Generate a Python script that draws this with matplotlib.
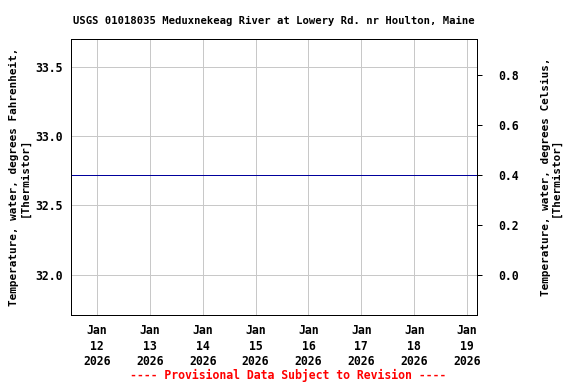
import matplotlib
matplotlib.use("Agg")
import matplotlib.pyplot as plt
import datetime as dt

# Data
times = ["2026-01-11 12:15", "2026-01-13 00:00", "2026-01-15 00:00",
         "2026-01-17 00:00", "2026-01-19 04:30"]
temps_f = [32.72, 32.72, 32.72, 32.72, 32.72]
tick_dates = ["2026-01-12", "2026-01-13", "2026-01-14", "2026-01-15",
              "2026-01-16", "2026-01-17", "2026-01-18", "2026-01-19"]
tick_labels = ["Jan\n12\n2026", "Jan\n13\n2026", "Jan\n14\n2026", "Jan\n15\n2026",
               "Jan\n16\n2026", "Jan\n17\n2026", "Jan\n18\n2026", "Jan\n19\n2026"]
yticks_f = [32.0, 32.5, 33.0, 33.5]
yticks_c = [0.0, 0.2, 0.4, 0.6, 0.8]

title = "USGS 01018035 Meduxnekeag River at Lowery Rd. nr Houlton, Maine"
ylabel_l = "Temperature, water, degrees Fahrenheit,\n[Thermistor]"
ylabel_r = "Temperature, water, degrees Celsius,\n[Thermistor]"
footer = "---- Provisional Data Subject to Revision ----"

plt.rcParams['font.family'] = ['DejaVu Sans Mono']
plt.rcParams['font.weight'] = 'bold'

fig = plt.figure(figsize=(8, 384/72), dpi=72)
ax = fig.add_axes([71/576, 69/384, 406/576, 276/384])

t = [dt.datetime.strptime(s, "%Y-%m-%d %H:%M") for s in times]
ax.plot(t, temps_f, color="#00009c", lw=1.0, zorder=3)

ax.set_xlim(t[0], t[-1])
ax.set_ylim(31.71, 33.70)

td = [dt.datetime.strptime(s, "%Y-%m-%d") for s in tick_dates]
ax.set_xticks(td)
ax.set_xticklabels(tick_labels, fontsize=11.5, fontweight='bold', linespacing=1.25)
ax.set_yticks(yticks_f)
ax.set_yticklabels([f"{v:.1f}" for v in yticks_f], fontsize=11.5, fontweight='bold')
ax.tick_params(axis='y', length=0, pad=8)
ax.tick_params(axis='x', length=0, pad=9)
ax.grid(True, color="#c8c8c8", lw=1.0)
ax.set_axisbelow(True)
for s in ax.spines.values():
    s.set_linewidth(1.0)
    s.set_color('black')

ax.set_ylabel(ylabel_l, fontsize=11, fontweight='bold', labelpad=6, linespacing=1.0)
ax.set_title(title, fontsize=10.5, fontweight='bold', pad=15)

ax2 = ax.twinx()
lo, hi = ax.get_ylim()
ax2.set_ylim((lo - 32) / 1.8, (hi - 32) / 1.8)
ax2.set_yticks(yticks_c)
ax2.set_yticklabels([f"{v:.1f}" for v in yticks_c], fontsize=11.5, fontweight='bold')
ax2.tick_params(axis='y', length=5, width=1, direction='out', pad=16)
ax2.set_ylabel(ylabel_r, fontsize=11, fontweight='bold', labelpad=22, linespacing=1.0)

fig.text(0.5, 1 - 375/384, footer, color='red', fontsize=11.5, fontweight='bold',
         ha='center', va='center')

fig.savefig("out.png", dpi=72)
